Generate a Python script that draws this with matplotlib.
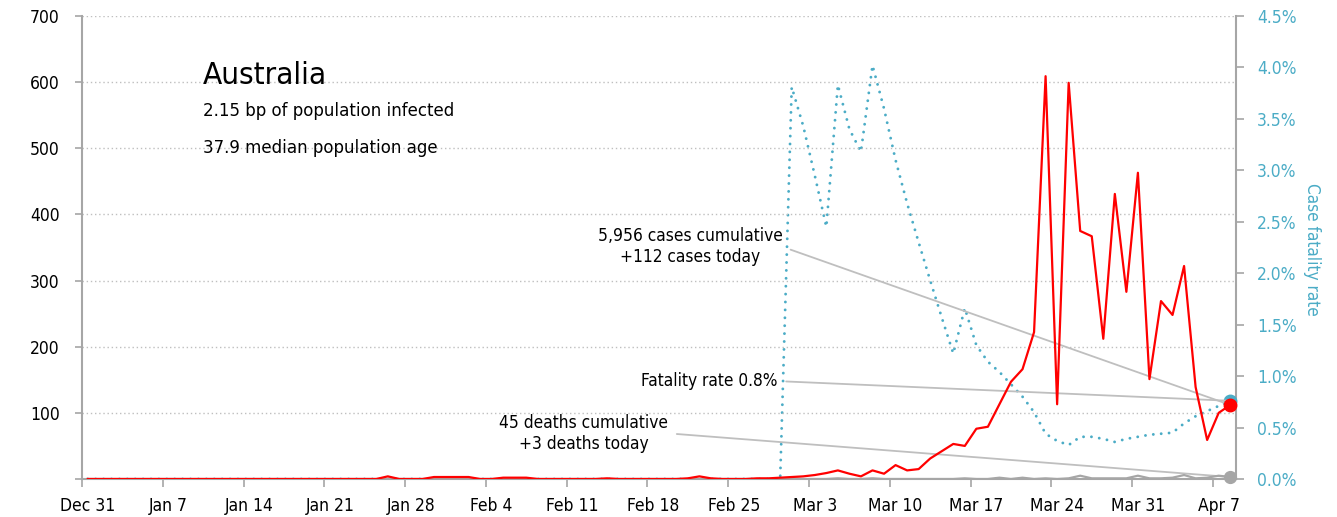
import numpy as np
import matplotlib
matplotlib.use("Agg")
import matplotlib.pyplot as plt
from matplotlib.ticker import PercentFormatter, FixedLocator

plt.rcParams['font.family'] = ['DejaVu Sans']
plt.rcParams['font.stretch'] = 'condensed'

# daily series, one value per day starting Dec 31 (100 days)
new_cases = [0] * 26 + [4, 0, 0, 0, 3, 3, 3, 3, 0, 0, 2, 2, 2, 0, 0, 0, 0, 0, 0, 1,
             0, 0, 0, 0, 0, 0, 1, 4, 1, 0, 0, 0, 1, 1, 2, 3, 4, 6, 9, 13,
             8, 4, 13, 8, 21, 13, 15, 31, 42, 53, 50, 76, 79, 113, 147, 166, 222, 609, 113, 599,
             375, 367, 212, 431, 283, 463, 151, 269, 248, 322, 139, 59, 100, 112]
new_deaths = [0] * 61 + [1, 0, 0, 0, 1, 0, 0, 1, 0, 0, 0, 0, 0, 0, 0, 1, 0, 0, 2,
              0, 2, 0, 1, 0, 1, 5, 1, 1, 1, 1, 5, 1, 1, 2, 6, 1, 2, 5, 3]
fatality = [0.0] * 61 + [3.81, 3.43, 2.95, 2.45, 3.83, 3.40, 3.18, 4.02, 3.60, 3.10,
                         2.68, 2.30, 1.93, 1.57, 1.22, 1.66, 1.30, 1.14, 1.04, 0.92,
                         0.80, 0.65, 0.44, 0.37, 0.33, 0.41, 0.41, 0.39, 0.36, 0.39,
                         0.41, 0.43, 0.44, 0.45, 0.54, 0.61, 0.66, 0.71, 0.76]
date_labels = ["Dec 31", "Jan 7", "Jan 14", "Jan 21", "Jan 28", "Feb 4", "Feb 11",
               "Feb 18", "Feb 25", "Mar 3", "Mar 10", "Mar 17", "Mar 24", "Mar 31", "Apr 7"]

RED = '#ff0000'
CYAN = '#4bacc6'
GREY = '#a6a6a6'
LINE = '#bfbfbf'
TICK_FS = 12.5
NOTE_FS = 12.4

days = np.arange(len(new_cases)) + 0.5
cfr = np.array(fatality) / 100

fig = plt.figure(figsize=(13.37, 5.17), dpi=100)
ax = fig.add_axes([82 / 1337, 38 / 517, 1154 / 1337, 463 / 517])
ax2 = ax.twinx()

ax.plot(days, new_deaths, color=GREY, lw=1.6, zorder=2)
ax.plot(days, new_cases, color=RED, lw=1.6, zorder=3)
ax2.plot(days, cfr, color=CYAN, lw=2.1, linestyle=(0, (0.01, 2.7)),
         dash_capstyle='round', zorder=3)

ax.plot(days[-1], new_deaths[-1], 'o', color=GREY, ms=8.5, zorder=4, clip_on=False)
ax.plot(days[-1], new_cases[-1], 'o', color=RED, ms=9, zorder=4, clip_on=False)
ax2.plot(days[-1], cfr[-1], 'o', color=CYAN, ms=9, zorder=5, clip_on=False)

ax.set_zorder(2)
ax.patch.set_visible(False)
ax2.set_zorder(1)

ax.set_xlim(0, 100)
ax.set_ylim(0, 700)
ax2.set_ylim(0, 0.045)

# axes styling
for s in ['top', 'right']:
    ax.spines[s].set_visible(False)
for s in ['top', 'left', 'bottom']:
    ax2.spines[s].set_visible(False)
for s in ['left', 'bottom']:
    ax.spines[s].set_color(GREY)
    ax.spines[s].set_linewidth(1.5)
ax2.spines['right'].set_color(GREY)
ax2.spines['right'].set_linewidth(1.5)

ax.set_yticks(np.arange(0, 701, 100))
ax.set_yticklabels([''] + [str(v) for v in range(100, 701, 100)])
ax.tick_params(axis='y', length=5, width=1.2, color=GREY, labelsize=TICK_FS, pad=11)
ax.yaxis.grid(True, linestyle=(0, (1, 2)), color=LINE, lw=1)
ax.set_axisbelow(True)

ax.set_xticks(np.arange(0, 99, 7))
ax.set_xticklabels([])
ax.set_xticks(np.arange(0, 99, 7) + 0.5, minor=True)
ax.set_xticklabels(date_labels, minor=True)
ax.tick_params(axis='x', which='major', length=6, width=1.2, color=GREY)
ax.tick_params(axis='x', which='minor', length=0, labelsize=TICK_FS, pad=13)

ax2.yaxis.set_major_locator(FixedLocator(np.arange(0, 0.0451, 0.005)))
ax2.yaxis.set_major_formatter(PercentFormatter(1.0, decimals=1))
ax2.tick_params(axis='y', length=6, width=1.2, color=GREY, labelcolor=CYAN,
                labelsize=TICK_FS, pad=9)
ax2.set_ylabel("Case fatality rate", color=CYAN, fontsize=12.3, rotation=270, va='center')
ax2.yaxis.set_label_coords(1.066, 0.495)

# titles
ax.text(0.105, 0.853, "Australia", transform=ax.transAxes, fontsize=22.5, va='baseline')
ax.text(0.105, 0.784, "2.15 bp of population infected", transform=ax.transAxes,
        fontsize=13.3, va='baseline')
ax.text(0.105, 0.704, "37.9 median population age", transform=ax.transAxes,
        fontsize=13.3, va='baseline')

# callouts
arrow = dict(arrowstyle='-', color=LINE, lw=1.3, shrinkA=4, shrinkB=0, relpos=(1, 0.5))
ax.annotate("5,956 cases cumulative\n+112 cases today", xy=(days[-1], new_cases[-1]),
            xytext=(52.7, 351), ha='center', va='center', fontsize=NOTE_FS,
            arrowprops=arrow, zorder=1)
ax.annotate("Fatality rate 0.8%", xy=(days[-1], cfr[-1]), xycoords=ax2.transData,
            xytext=(60.3, 148), textcoords=ax.transData, ha='right', va='center',
            fontsize=NOTE_FS, arrowprops=arrow, zorder=1)
ax.annotate("45 deaths cumulative\n+3 deaths today", xy=(days[-1], new_deaths[-1]),
            xytext=(43.5, 69), ha='center', va='center', fontsize=NOTE_FS,
            arrowprops=arrow, zorder=1)

fig.savefig("out.png", dpi=100)
